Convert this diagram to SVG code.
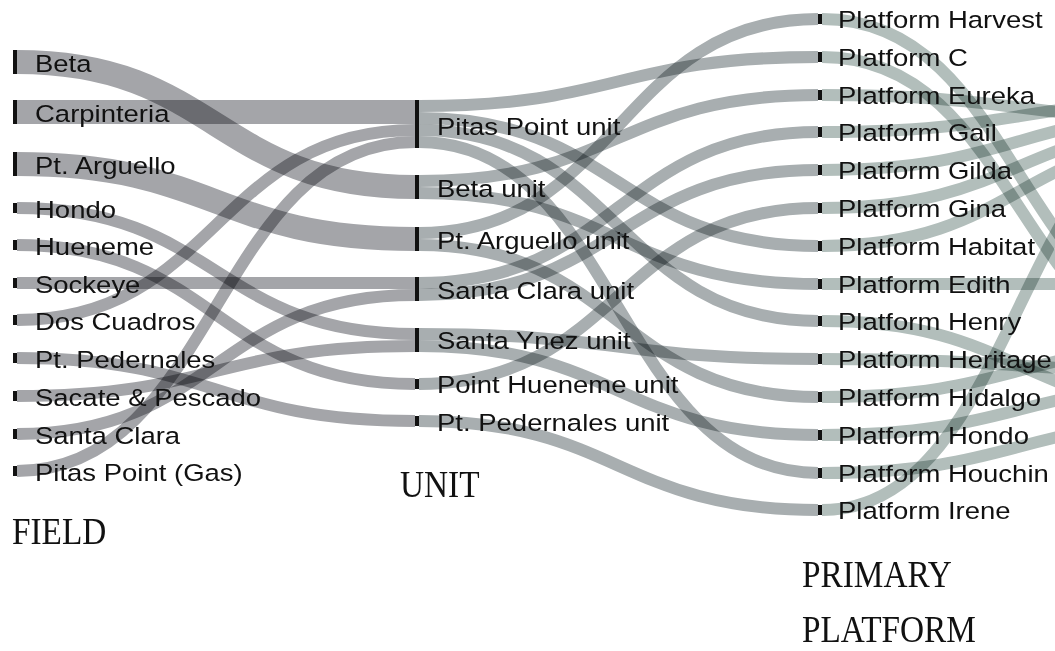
<svg xmlns="http://www.w3.org/2000/svg" width="1055" height="651" viewBox="0 0 1055 651">
<style>
.lk{fill:none;mix-blend-mode:multiply}
.l1{stroke:#a4a5a9}
.l2{stroke:#a8aeb0}
.l3{stroke:#b2bebb}
.bar{fill:#111}
.lb{font-family:"Liberation Sans",Arial,sans-serif;font-size:23.5px;fill:#111}
.tt{font-family:"Liberation Serif","Times New Roman",serif;font-size:37px;fill:#111}
</style>
<rect width="1055" height="651" fill="#fff"/>
<g id="connectors">
<g class="field-unit">
<path class="lk l1" stroke-width="24" d="M17 62 C216 62,216 187,415 187"/>
<path class="lk l1" stroke-width="24" d="M17 112 C216 112,216 112,415 112"/>
<path class="lk l1" stroke-width="24" d="M17 164 C216 164,216 239,415 239"/>
<path class="lk l1" stroke-width="12" d="M17 208 C216 208,216 334,415 334"/>
<path class="lk l1" stroke-width="12" d="M17 245 C216 245,216 384,415 384"/>
<path class="lk l1" stroke-width="12" d="M17 283 C216 283,216 283,415 283"/>
<path class="lk l1" stroke-width="12" d="M17 320 C216 320,216 130,415 130"/>
<path class="lk l1" stroke-width="12" d="M17 358 C216 358,216 421,415 421"/>
<path class="lk l1" stroke-width="12" d="M17 396 C216 396,216 346,415 346"/>
<path class="lk l1" stroke-width="12" d="M17 434 C216 434,216 295,415 295"/>
<path class="lk l1" stroke-width="12" d="M17 471 C216 471,216 142,415 142"/>
</g>
<g class="unit-platform">
<path class="lk l2" stroke-width="12" d="M419 106 C618 106,618 57,818 57"/>
<path class="lk l2" stroke-width="12" d="M419 118 C618 118,618 246,818 246"/>
<path class="lk l2" stroke-width="12" d="M419 130 C618 130,618 321,818 321"/>
<path class="lk l2" stroke-width="12" d="M419 142 C618 142,618 473,818 473"/>
<path class="lk l2" stroke-width="12" d="M419 181 C618 181,618 95,818 95"/>
<path class="lk l2" stroke-width="12" d="M419 193 C618 193,618 284,818 284"/>
<path class="lk l2" stroke-width="12" d="M419 233 C618 233,618 19,818 19"/>
<path class="lk l2" stroke-width="12" d="M419 245 C618 245,618 397,818 397"/>
<path class="lk l2" stroke-width="12" d="M419 283 C618 283,618 132,818 132"/>
<path class="lk l2" stroke-width="12" d="M419 295 C618 295,618 170,818 170"/>
<path class="lk l2" stroke-width="12" d="M419 334 C618 334,618 359,818 359"/>
<path class="lk l2" stroke-width="12" d="M419 346 C618 346,618 435,818 435"/>
<path class="lk l2" stroke-width="12" d="M419 384 C618 384,618 208,818 208"/>
<path class="lk l2" stroke-width="12" d="M419 421 C618 421,618 510,818 510"/>
</g>
<g class="platform-out">
<path class="lk l3" stroke-width="12" d="M822 19 C1020 19,1020 332,1218 332"/>
<path class="lk l3" stroke-width="12" d="M822 57 C1020 57,1020 360,1218 360"/>
<path class="lk l3" stroke-width="12" d="M822 95 C1020 95,1020 120,1218 120"/>
<path class="lk l3" stroke-width="12" d="M822 132 C1020 132,1020 100,1218 100"/>
<path class="lk l3" stroke-width="12" d="M822 170 C1020 170,1020 112,1218 112"/>
<path class="lk l3" stroke-width="12" d="M822 208 C1020 208,1020 124,1218 124"/>
<path class="lk l3" stroke-width="12" d="M822 246 C1020 246,1020 136,1218 136"/>
<path class="lk l3" stroke-width="12" d="M822 284 C1020 284,1020 284,1218 284"/>
<path class="lk l3" stroke-width="12" d="M822 321 C1020 321,1020 410,1218 410"/>
<path class="lk l3" stroke-width="12" d="M822 359 C1020 359,1020 372,1218 372"/>
<path class="lk l3" stroke-width="12" d="M822 397 C1020 397,1020 344,1218 344"/>
<path class="lk l3" stroke-width="12" d="M822 435 C1020 435,1020 384,1218 384"/>
<path class="lk l3" stroke-width="12" d="M822 473 C1020 473,1020 420,1218 420"/>
<path class="lk l3" stroke-width="12" d="M822 510 C1020 510,1020 100,1218 100"/>
</g>
</g>
<g id="field-nodes">
<g id="f-beta"><rect class="bar" x="13" y="50" width="4" height="24"/><text class="lb" transform="translate(35 72) scale(1.17 1)">Beta</text></g>
<g id="f-carpinteria"><rect class="bar" x="13" y="100" width="4" height="24"/><text class="lb" transform="translate(35 122) scale(1.17 1)">Carpinteria</text></g>
<g id="f-ptarguello"><rect class="bar" x="13" y="152" width="4" height="24"/><text class="lb" transform="translate(35 173.5) scale(1.17 1)">Pt. Arguello</text></g>
<g id="f-hondo"><rect class="bar" x="13" y="203" width="4" height="10"/><text class="lb" transform="translate(35 217.5) scale(1.17 1)">Hondo</text></g>
<g id="f-hueneme"><rect class="bar" x="13" y="240" width="4" height="10"/><text class="lb" transform="translate(35 254.5) scale(1.17 1)">Hueneme</text></g>
<g id="f-sockeye"><rect class="bar" x="13" y="278" width="4" height="10"/><text class="lb" transform="translate(35 292.5) scale(1.17 1)">Sockeye</text></g>
<g id="f-doscuadros"><rect class="bar" x="13" y="315" width="4" height="10"/><text class="lb" transform="translate(35 329.5) scale(1.17 1)">Dos Cuadros</text></g>
<g id="f-ptpedernales"><rect class="bar" x="13" y="353" width="4" height="10"/><text class="lb" transform="translate(35 367.5) scale(1.17 1)">Pt. Pedernales</text></g>
<g id="f-sacate"><rect class="bar" x="13" y="391" width="4" height="10"/><text class="lb" transform="translate(35 405.5) scale(1.17 1)">Sacate &amp; Pescado</text></g>
<g id="f-santaclara"><rect class="bar" x="13" y="429" width="4" height="10"/><text class="lb" transform="translate(35 443.5) scale(1.17 1)">Santa Clara</text></g>
<g id="f-pitasgas"><rect class="bar" x="13" y="466" width="4" height="10"/><text class="lb" transform="translate(35 480.5) scale(1.17 1)">Pitas Point (Gas)</text></g>
</g>
<g id="unit-nodes">
<g id="u-pitas"><rect class="bar" x="415" y="100" width="4" height="48"/><text class="lb" transform="translate(437 134.5) scale(1.17 1)">Pitas Point unit</text></g>
<g id="u-beta"><rect class="bar" x="415" y="175" width="4" height="24"/><text class="lb" transform="translate(437 196.5) scale(1.17 1)">Beta unit</text></g>
<g id="u-ptarguello"><rect class="bar" x="415" y="227" width="4" height="24"/><text class="lb" transform="translate(437 248.5) scale(1.17 1)">Pt. Arguello unit</text></g>
<g id="u-santaclara"><rect class="bar" x="415" y="277" width="4" height="24"/><text class="lb" transform="translate(437 298.5) scale(1.17 1)">Santa Clara unit</text></g>
<g id="u-santaynez"><rect class="bar" x="415" y="328" width="4" height="24"/><text class="lb" transform="translate(437 349) scale(1.17 1)">Santa Ynez unit</text></g>
<g id="u-hueneme"><rect class="bar" x="415" y="379" width="4" height="10"/><text class="lb" transform="translate(437 393) scale(1.17 1)">Point Hueneme unit</text></g>
<g id="u-ptpedernales"><rect class="bar" x="415" y="416" width="4" height="10"/><text class="lb" transform="translate(437 431) scale(1.17 1)">Pt. Pedernales unit</text></g>
</g>
<g id="platform-nodes">
<g id="p-harvest"><rect class="bar" x="818" y="14" width="4" height="10"/><text class="lb" transform="translate(838 27.5) scale(1.17 1)">Platform Harvest</text></g>
<g id="p-c"><rect class="bar" x="818" y="52" width="4" height="10"/><text class="lb" transform="translate(838 65.5) scale(1.17 1)">Platform C</text></g>
<g id="p-eureka"><rect class="bar" x="818" y="90" width="4" height="10"/><text class="lb" transform="translate(838 103.5) scale(1.17 1)">Platform Eureka</text></g>
<g id="p-gail"><rect class="bar" x="818" y="127" width="4" height="10"/><text class="lb" transform="translate(838 141) scale(1.17 1)">Platform Gail</text></g>
<g id="p-gilda"><rect class="bar" x="818" y="165" width="4" height="10"/><text class="lb" transform="translate(838 179) scale(1.17 1)">Platform Gilda</text></g>
<g id="p-gina"><rect class="bar" x="818" y="203" width="4" height="10"/><text class="lb" transform="translate(838 216.5) scale(1.17 1)">Platform Gina</text></g>
<g id="p-habitat"><rect class="bar" x="818" y="241" width="4" height="10"/><text class="lb" transform="translate(838 254.5) scale(1.17 1)">Platform Habitat</text></g>
<g id="p-edith"><rect class="bar" x="818" y="279" width="4" height="10"/><text class="lb" transform="translate(838 292.5) scale(1.17 1)">Platform Edith</text></g>
<g id="p-henry"><rect class="bar" x="818" y="316" width="4" height="10"/><text class="lb" transform="translate(838 330) scale(1.17 1)">Platform Henry</text></g>
<g id="p-heritage"><rect class="bar" x="818" y="354" width="4" height="10"/><text class="lb" transform="translate(838 368) scale(1.17 1)">Platform Heritage</text></g>
<g id="p-hidalgo"><rect class="bar" x="818" y="392" width="4" height="10"/><text class="lb" transform="translate(838 405.5) scale(1.17 1)">Platform Hidalgo</text></g>
<g id="p-hondo"><rect class="bar" x="818" y="430" width="4" height="10"/><text class="lb" transform="translate(838 443.5) scale(1.17 1)">Platform Hondo</text></g>
<g id="p-houchin"><rect class="bar" x="818" y="468" width="4" height="10"/><text class="lb" transform="translate(838 481.5) scale(1.17 1)">Platform Houchin</text></g>
<g id="p-irene"><rect class="bar" x="818" y="505" width="4" height="10"/><text class="lb" transform="translate(838 519) scale(1.17 1)">Platform Irene</text></g>
</g>
<g id="titles">
<text class="tt" transform="translate(12 544) scale(0.9 1)">FIELD</text>
<text class="tt" transform="translate(400 497) scale(0.9 1)">UNIT</text>
<text class="tt" transform="translate(802 587) scale(0.9 1)">PRIMARY</text>
<text class="tt" transform="translate(802 642) scale(0.9 1)">PLATFORM</text>
</g>
</svg>
